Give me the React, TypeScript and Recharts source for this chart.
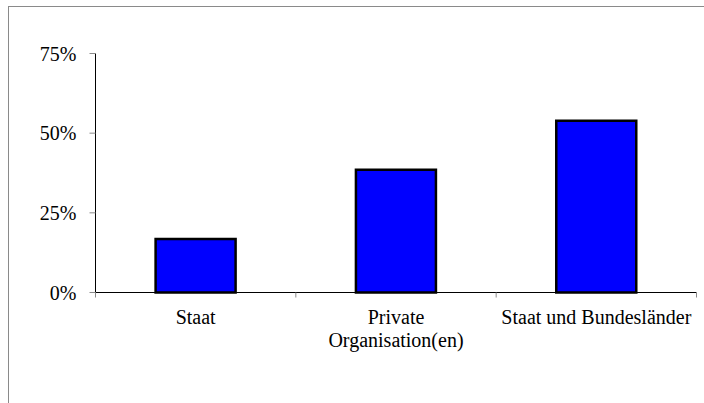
// Balkendiagramm: Anteile nach Träger
import { BarChart, Bar, XAxis, YAxis } from 'recharts';

const categories = ['Staat', 'Private\nOrganisation(en)', 'Staat und Bundesländer'];
const shares = [16.8, 38.5, 53.9];
const yTicks = [0, 25, 50, 75];

const data = categories.map((name, i) => ({ name, value: shares[i] }));

const FONT = '"Liberation Serif", "Times New Roman", serif';
const GRID_GREY = '#8a8a8a';

// Beschriftung mit Zeilenumbruch + Teilstriche an den Kategoriegrenzen
function CategoryTick(props: any) {
    const { x, y, payload, index, visibleTicksCount } = props;
    const half = payload.offset ?? 0;
    const axisY = y - 17;
    const lines = String(payload.value).split('\n');
    const last = index === visibleTicksCount - 1;
    return (
        <g>
            <line x1={x - half} x2={x - half} y1={axisY} y2={axisY + 5} stroke={GRID_GREY} />
            {last && (
                <line x1={x + half} x2={x + half} y1={axisY} y2={axisY + 5} stroke={GRID_GREY} />
            )}
            <text x={x} y={y} textAnchor="middle" fontFamily={FONT} fontSize={20} fill="#000">
                {lines.map((line, i) => (
                    <tspan key={i} x={x} dy={i === 0 ? '0.71em' : 23}>
                        {line}
                    </tspan>
                ))}
            </text>
        </g>
    );
}

export default function App() {
    return (
        <div style={{ position: 'fixed', inset: 0, overflow: 'hidden', background: '#fff' }}>
            <div
                style={{
                    position: 'absolute',
                    left: 8,
                    top: 6,
                    width: 760,
                    height: 460,
                    border: '1px solid #8a8a8a',
                }}
            />
            <div style={{ position: 'absolute', left: 0, top: 0 }}>
                <BarChart
                    width={704}
                    height={403}
                    data={data}
                    margin={{ top: 53.5, right: 7.5, left: 0, bottom: 0 }}
                    barCategoryGap="30%"
                >
                    <XAxis
                        dataKey="name"
                        height={110.5}
                        stroke="#000"
                        axisLine={{ stroke: '#000' }}
                        tickLine={false}
                        tickSize={5}
                        tickMargin={12}
                        interval={0}
                        tick={<CategoryTick />}
                    />
                    <YAxis
                        width={95.5}
                        domain={[0, 75]}
                        ticks={yTicks}
                        tickFormatter={(v: number) => `${v}%`}
                        stroke="#000"
                        axisLine={{ stroke: '#000' }}
                        tickLine={{ stroke: GRID_GREY }}
                        tickSize={6}
                        tickMargin={13}
                        tick={{ fontFamily: FONT, fontSize: 20, fill: '#000' }}
                    />
                    <Bar
                        dataKey="value"
                        fill="#0000ff"
                        stroke="#000"
                        strokeWidth={2.5}
                        isAnimationActive={false}
                    />
                </BarChart>
            </div>
        </div>
    );
}
